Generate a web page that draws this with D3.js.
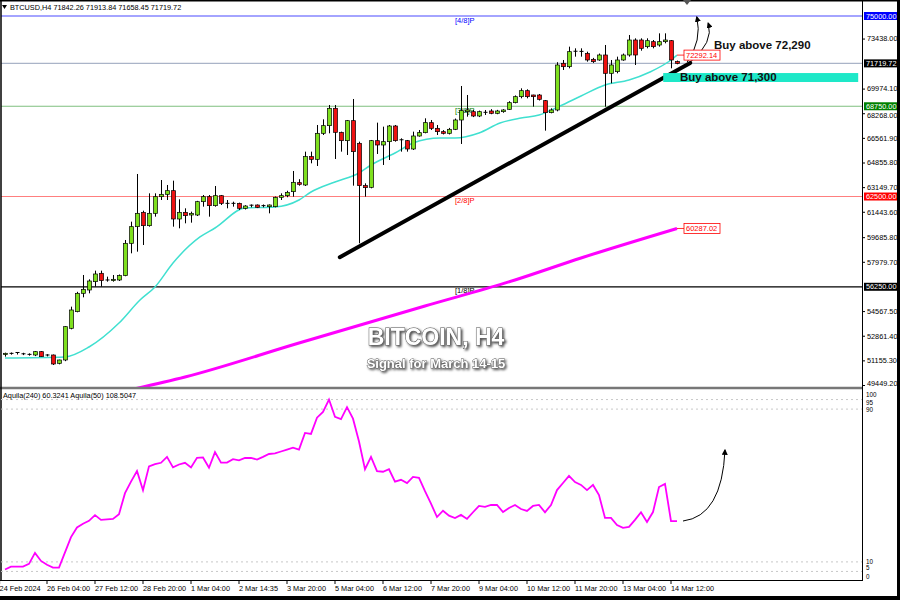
<!DOCTYPE html>
<html><head><meta charset="utf-8">
<script src="https://cdn.jsdelivr.net/npm/d3@7"></script>
<style>body{margin:0;background:#fff}svg{display:block}</style>
</head><body><svg id="c" width="900" height="600"></svg>
<script>
// ---------- DATA ----------
const opens=[51551,51620,51640,51600,51560,51527,51758,51527,51527,50950,51181,53374,54528,55797,56028,56605,57182,56721,56675,56721,57021,59259,60413,61405,60482,61336,62490,62652,62906,60944,61405,61221,61221,62144,62490,61867,62559,62028,62028,62028,61683,61867,61913,61850,61798,61798,62444,62559,62837,63460,63299,65261,65076,66876,67407,68607,66945,66368,67753,66184,63253,63137,66368,66068,66299,67384,66430,66368,65791,66691,66922,67615,67222,66992,66876,67153,67799,68376,68376,68076,68330,68423,68261,68376,68538,68999,69415,69830,69530,69530,69138,68307,68492,71723,71492,72531,72550,72415,72000,71954,72300,71031,71146,71954,72300,73338,73338,72877,73223,72992,73223,73292,71842.26];
const highs=[51689,51700,51720,51680,51640,51800,51800,51580,51560,51200,53520,54874,55900,57067,56766,57367,57367,56951,57067,57100,59490,60759,64060,61521,62721,62721,63644,63298,63598,62306,61683,61452,62200,62606,62606,63229,62606,62259,62144,62075,61900,61950,61950,61950,61950,62500,62721,62900,64268,63700,65607,65607,67453,67846,68838,68838,66992,67799,69253,66300,63414,66415,67615,67338,67453,67453,66530,66415,66992,67107,67915,67799,67453,67100,67250,67900,70154,69530,68500,68450,68492,68550,68500,68550,69100,69500,69992,69923,69550,69600,69184,68607,71800,71954,72877,72761,72761,72531,72100,72400,72992,71954,72184,72400,73685,73454,73454,73454,73338,73800,73800,73338,71913.84];
const lows=[51412,51550,51560,51520,51480,51450,51400,51430,50835,50880,51100,53304,54482,55520,55797,56259,56259,56605,56605,56650,56980,58567,58682,59144,60413,61105,62259,62259,60413,60298,60644,60690,61150,61798,61105,61798,61913,61683,61798,61567,61600,61750,61700,61750,61336,61750,62259,62450,62490,63250,63230,64799,64614,66761,66876,65099,65607,65376,63253,59260,62491,63068,65445,64684,65030,66299,65607,65607,65722,66645,66876,67107,66761,66800,66800,67100,66138,68030,68000,68000,68146,68200,68200,68300,68500,68950,69300,69300,68723,69150,67061,68261,68400,71261,71377,72184,72184,71838,71750,71900,68722,70338,71031,71900,72184,71607,72600,72761,72761,72877,73108,71377,71658.45];
const closes=[51643,51640,51700,51610,51570,51758,51412,51458,50904,51181,53489,54643,55797,56074,56651,57136,56675,56700,56766,57021,59259,60413,61336,60482,61336,62490,62652,62906,60944,61405,61175,61336,62144,62490,61867,62559,62028,62000,62010,61683,61844,61900,61752,61870,61913,62444,62559,62790,63483,63345,65261,65076,66876,67407,68607,66945,66368,67753,65607,63253,63114,66368,66068,66299,67384,66368,66400,65791,66691,66922,67615,67222,66992,66876,67153,67799,68446,68492,68076,68376,68330,68261,68423,68492,68999,69415,69830,69415,69415,69230,68307,68492,71607,71492,72531,72560,72531,71954,71838,72300,71031,71608,71954,72300,73338,72300,72761,73292,72877,73223,73338,71954,71719.72];

// EMA (cyan) sampled at bar index
const emaIdx=[0,10,14,19,22.5,25,28,32.5,35,40,45,49,51,55,59,61,65,68,72.5,75,79,82.5,86,89,92.5,96,100,104,107.5,111,112];
const emaVal=[51320,51390,52080,53740,55336,56240,57900,59700,60320,61706,61775,62260,62814,63506,64130,64683,65514,66207,66553,66553,66900,67590,67937,68145,68768,69460,70222,70569,71123,71953,72292.14];
// slow MA (magenta)
const maIdx=[20,30,49,70,85,96,112];
const maVal=[49035,50004,52358,54920,56720,58244,60287.02];

// Aquila oscillator, one value per bar
const aquila=[6,7.5,7.5,7.5,9,14.7,10.5,8.5,7,7,15,23,28,30,31.5,34.5,32,32.3,32.5,35,46,52,57.6,47.5,60,61.2,61.9,65,59.5,61,61.9,59.5,64.5,64.7,59.3,67.5,62,62,63.8,63.2,64.4,64.5,63.6,65,66.5,66.8,67.8,68.8,69.8,68.8,77.5,77,85.5,88.5,95,86,84.8,91,85,73,58.5,65,57.5,57.2,58.5,52,53,51.3,54.5,54,47,40.5,33.5,36.8,34.2,33,34.6,32.5,36,39.3,38.8,39.8,39.8,36.1,38.2,39.8,37.7,36.7,39.3,39.8,36,39.8,47.6,51.3,55,51.8,50.3,47.6,50.3,45,33,33,29.3,27.8,28.3,32,36,30.9,36.1,49.2,50.8,31.4,31.4];

// axis
const priceTicks=[73438,69974.1,68268,66561.9,64855.8,63149.7,61443.6,59685.8,57979.7,54567.5,52861.4,51155.3,49449.2];
const levelPrices=[75000,68750,62500,56250];
const levelNames=["[4/8]P","[3/8]P","[2/8]P","[1/8]P"];
const levelColors=["#4a4aff","#7fbf7f","#ff7f7f","#000000"];
const levelBoxColors=["#0000ff","#008000","#ff0000","#000000"];
const lastPrice=71719.72;
const xTickIdx=[-0.9,7,15,23,31,39,47,55,63,71,79,87,95,103,111];
const xTickLabels=["24 Feb 2024","26 Feb 04:00","27 Feb 12:00","28 Feb 20:00","1 Mar 04:00","2 Mar 14:35","3 Mar 20:00","5 Mar 04:00","6 Mar 12:00","7 Mar 20:00","9 Mar 04:00","10 Mar 12:00","11 Mar 20:00","13 Mar 04:00","14 Mar 12:00"];
const indTicks=[100,95,90,10,5,0];
const indGrid=[95,90,10,5];
// annotations (bar index, price)
const trendLine=[[55.8,58300],[114.2,71750]];
const buyZone={i0:109.7,i1:142.2,p0:71050,p1:70430};
const arrows=[[[113.7,71815],[116.2,73300],[115.3,74930]],[[114.2,71800],[118.2,73200],[117.2,74500]]];
const indArrow=[[113,31.4],[119.5,34],[120,68.6]];

// ---------- DRAW ----------
const svg=d3.select("#c");
const FONT="Liberation Sans, Arial, sans-serif";
const x=d3.scaleLinear().domain([0,112]).range([5,677]);
const y=d3.scaleLinear().domain([49449.2,75000]).range([385,16]);
const yi=d3.scaleLinear().domain([0,100]).range([581,390]);
const PR=862;

svg.append("rect").attr("width",900).attr("height",600).attr("fill","#fff");
const defs=svg.append("defs");
defs.append("clipPath").attr("id","mainClip").append("rect").attr("x",1).attr("y",1).attr("width",PR-1).attr("height",386);
defs.append("clipPath").attr("id","indClip").append("rect").attr("x",1).attr("y",391).attr("width",PR-1).attr("height",189);
defs.append("marker").attr("id","ah").attr("viewBox","0 0 10 10").attr("refX",8).attr("refY",5)
 .attr("markerWidth",6).attr("markerHeight",6).attr("orient","auto")
 .append("path").attr("d","M0,0L10,5L0,10z").attr("fill","#000");
const f=defs.append("filter").attr("id","ts").attr("x","-10%").attr("y","-30%").attr("width","130%").attr("height","180%");
f.append("feDropShadow").attr("dx",1.5).attr("dy",1.5).attr("stdDeviation",1.2).attr("flood-color","#000").attr("flood-opacity",0.7);

const main=svg.append("g").attr("clip-path","url(#mainClip)");

// level lines
levelPrices.forEach((p,k)=>{
  main.append("line").attr("x1",1).attr("x2",PR).attr("y1",y(p)).attr("y2",y(p))
   .attr("stroke",levelColors[k]).attr("stroke-width",1.2);
  main.append("text").attr("x",455).attr("y",y(p)+6.5).attr("font-family",FONT).attr("font-size",7.5)
   .attr("fill",levelBoxColors[k]).text(levelNames[k]);
});
// current price line
main.append("line").attr("x1",1).attr("x2",PR).attr("y1",y(lastPrice)).attr("y2",y(lastPrice))
 .attr("stroke","#aab4c8").attr("stroke-width",1.2);

// MA lines
main.append("path").datum(maIdx.map((d,k)=>[d,maVal[k]]))
 .attr("d",d3.line().x(d=>x(d[0])).y(d=>y(d[1])).curve(d3.curveMonotoneX))
 .attr("fill","none").attr("stroke","#ff00ff").attr("stroke-width",3);
main.append("path").datum(emaIdx.map((d,k)=>[d,emaVal[k]]))
 .attr("d",d3.line().x(d=>x(d[0])).y(d=>y(d[1])).curve(d3.curveMonotoneX))
 .attr("fill","none").attr("stroke","#40e0d0").attr("stroke-width",1.5);

// candles
const cg=main.append("g");
opens.forEach((o,i)=>{
  const c=closes[i], up=c>=o, cx=Math.round(x(i))+0.5;
  cg.append("line").attr("x1",cx).attr("x2",cx).attr("y1",y(highs[i])).attr("y2",y(lows[i]))
   .attr("stroke","#000").attr("stroke-width",1);
  const top=y(Math.max(o,c)), bot=y(Math.min(o,c));
  const h=Math.max(bot-top,1);
  if(h<=1.2){
    cg.append("line").attr("x1",cx-2).attr("x2",cx+2).attr("y1",top).attr("y2",top).attr("stroke","#000").attr("stroke-width",1);
  } else {
    cg.append("rect").attr("x",cx-2).attr("y",top).attr("width",4).attr("height",h)
     .attr("fill",up?"#7ee01e":"#ee1111").attr("stroke","#000").attr("stroke-width",0.7);
  }
});

// trend line
main.append("line").attr("x1",x(trendLine[0][0])).attr("y1",y(trendLine[0][1]))
 .attr("x2",x(trendLine[1][0])).attr("y2",y(trendLine[1][1]))
 .attr("stroke","#000").attr("stroke-width",4).attr("stroke-linecap","round");

// buy zone
main.append("rect").attr("x",x(buyZone.i0)).attr("y",y(buyZone.p0))
 .attr("width",x(buyZone.i1)-x(buyZone.i0)).attr("height",y(buyZone.p1)-y(buyZone.p0))
 .attr("fill","#1ee8c8");
main.append("text").attr("x",680).attr("y",y(buyZone.p0)+8).attr("font-family",FONT).attr("font-weight","bold")
 .attr("font-size",11.5).attr("fill","#111").text("Buy above 71,300");
main.append("text").attr("x",714).attr("y",49).attr("font-family",FONT).attr("font-weight","bold")
 .attr("font-size",11.5).attr("fill","#111").text("Buy above 72,290");

// arrows
arrows.forEach(a=>{
  const p=a.map(d=>[x(d[0]),y(d[1])]);
  main.append("path").attr("d",`M${p[0][0]},${p[0][1]}Q${p[1][0]},${p[1][1]} ${p[2][0]},${p[2][1]}`)
   .attr("fill","none").attr("stroke","#000").attr("stroke-width",1).attr("marker-end","url(#ah)");
});

// indicator labels for EMA & MA
function priceTag(idx,val,txt){
  const ty=y(val);
  main.append("line").attr("x1",x(idx)).attr("x2",x(idx)+7).attr("y1",ty).attr("y2",ty).attr("stroke","#ff0000").attr("stroke-width",0.8);
  main.append("rect").attr("x",x(idx)+7).attr("y",ty-5).attr("width",36).attr("height",10)
   .attr("fill","#fff").attr("stroke","#ff0000").attr("stroke-width",0.8);
  main.append("text").attr("x",x(idx)+9).attr("y",ty+3).attr("font-family",FONT).attr("font-size",7.5)
   .attr("fill","#ff0000").text(txt);
}
priceTag(112,emaVal[emaVal.length-1],"72292.14");
priceTag(112,maVal[maVal.length-1],"60287.02");

// title
svg.append("text").attr("x",436).attr("y",345).attr("text-anchor","middle").attr("font-family",FONT)
 .attr("font-weight","bold").attr("font-size",23).attr("fill","#fff").attr("stroke","#555").attr("stroke-width",1)
 .attr("paint-order","stroke").attr("filter","url(#ts)").text("BITCOIN, H4");
svg.append("text").attr("x",436).attr("y",368).attr("text-anchor","middle").attr("font-family",FONT)
 .attr("font-weight","bold").attr("font-size",13).attr("fill","#fff").attr("stroke","#555").attr("stroke-width",0.8)
 .attr("paint-order","stroke").attr("filter","url(#ts)").text("Signal for March 14-15");

// header
svg.append("path").attr("d","M2,5L7,5L4.5,9z").attr("fill","#000");
svg.append("text").attr("x",10).attr("y",10).attr("font-family",FONT).attr("font-size",7.3).attr("fill","#000")
 .text("BTCUSD,H4  71842.26 71913.84 71658.45 71719.72");

// right price axis
const ax=svg.append("g").attr("transform",`translate(${PR},0)`)
 .call(d3.axisRight(y).tickValues(priceTicks).tickFormat(d3.format(".2f")).tickSize(3).tickPadding(2));
ax.select(".domain").remove();
ax.selectAll("text").attr("font-family",FONT).attr("font-size",7.3).attr("fill","#000")
 .attr("dy",d=>d===68268?"0.6em":(d===49449.2?"0.1em":"0.32em"));
ax.selectAll("line").attr("stroke","#000");

function box(p,color,txt){
  svg.append("rect").attr("x",PR+2).attr("y",y(p)-4).attr("width",34).attr("height",8).attr("fill",color);
  svg.append("text").attr("x",PR+4).attr("y",y(p)+2.6).attr("font-family",FONT).attr("font-size",7.3).attr("fill","#fff").text(txt);
}
levelPrices.forEach((p,k)=>box(p,levelBoxColors[k],d3.format(".2f")(p)));
box(lastPrice,"#000",d3.format(".2f")(lastPrice));

// panels borders
svg.append("line").attr("x1",0).attr("x2",PR).attr("y1",388).attr("y2",388).attr("stroke","#777").attr("stroke-width",2.5);
svg.append("line").attr("x1",1).attr("x2",1).attr("y1",0).attr("y2",581).attr("stroke","#000").attr("stroke-width",1.5);
svg.append("line").attr("x1",PR+0.5).attr("x2",PR+0.5).attr("y1",0).attr("y2",581).attr("stroke","#000").attr("stroke-width",1);
svg.append("line").attr("x1",0).attr("x2",PR+1).attr("y1",580.5).attr("y2",580.5).attr("stroke","#000").attr("stroke-width",1);

// indicator panel
const ind=svg.append("g").attr("clip-path","url(#indClip)");
indGrid.forEach(v=>{
  ind.append("line").attr("x1",1).attr("x2",PR).attr("y1",yi(v)).attr("y2",yi(v))
   .attr("stroke","#c8c8c8").attr("stroke-dasharray","2,3").attr("stroke-width",1);
});
ind.append("path").datum(aquila)
 .attr("d",d3.line().x((d,i)=>x(i)).y(d=>yi(d)))
 .attr("fill","none").attr("stroke","#ff00ff").attr("stroke-width",1.8);
{
  const p=indArrow.map(d=>[x(d[0]),yi(d[1])]);
  ind.append("path").attr("d",`M${p[0][0]},${p[0][1]}Q${p[1][0]},${p[1][1]} ${p[2][0]},${p[2][1]}`)
   .attr("fill","none").attr("stroke","#000").attr("stroke-width",1).attr("marker-end","url(#ah)");
}
svg.append("text").attr("x",3).attr("y",398).attr("font-family",FONT).attr("font-size",7.3).attr("fill","#000")
 .text("Aquila(240) 60.3241   Aquila(50) 108.5047");
const ai=svg.append("g").attr("transform",`translate(${PR},0)`)
 .call(d3.axisRight(yi).tickValues(indTicks).tickSize(0).tickPadding(4));
ai.select(".domain").remove();
ai.selectAll("text").attr("font-family",FONT).attr("font-size",6.3).attr("fill","#000")
 .attr("dy",d=>d===100?"1.0em":(d===95?"0.75em":(d===0?"-0.45em":(d===5?"-0.25em":"0.32em"))));

// x axis
const xa=svg.append("g").attr("transform","translate(0,581)");
xTickIdx.forEach((t,k)=>{
  xa.append("line").attr("x1",x(t)).attr("x2",x(t)).attr("y1",0).attr("y2",3).attr("stroke","#000");
  xa.append("text").attr("x",x(t)).attr("y",10).attr("font-family",FONT).attr("font-size",7.3).attr("fill","#000").text(xTickLabels[k]);
});

// outer frame
svg.append("rect").attr("x",0).attr("y",596).attr("width",900).attr("height",4).attr("fill","#000");
svg.append("rect").attr("x",897).attr("y",0).attr("width",3).attr("height",600).attr("fill","#000");
svg.append("rect").attr("x",0).attr("y",0).attr("width",900).attr("height",1.5).attr("fill","#000");
svg.append("path").attr("d","M683,0L691,0L687,5z").attr("fill","#555");
</script></body></html>
